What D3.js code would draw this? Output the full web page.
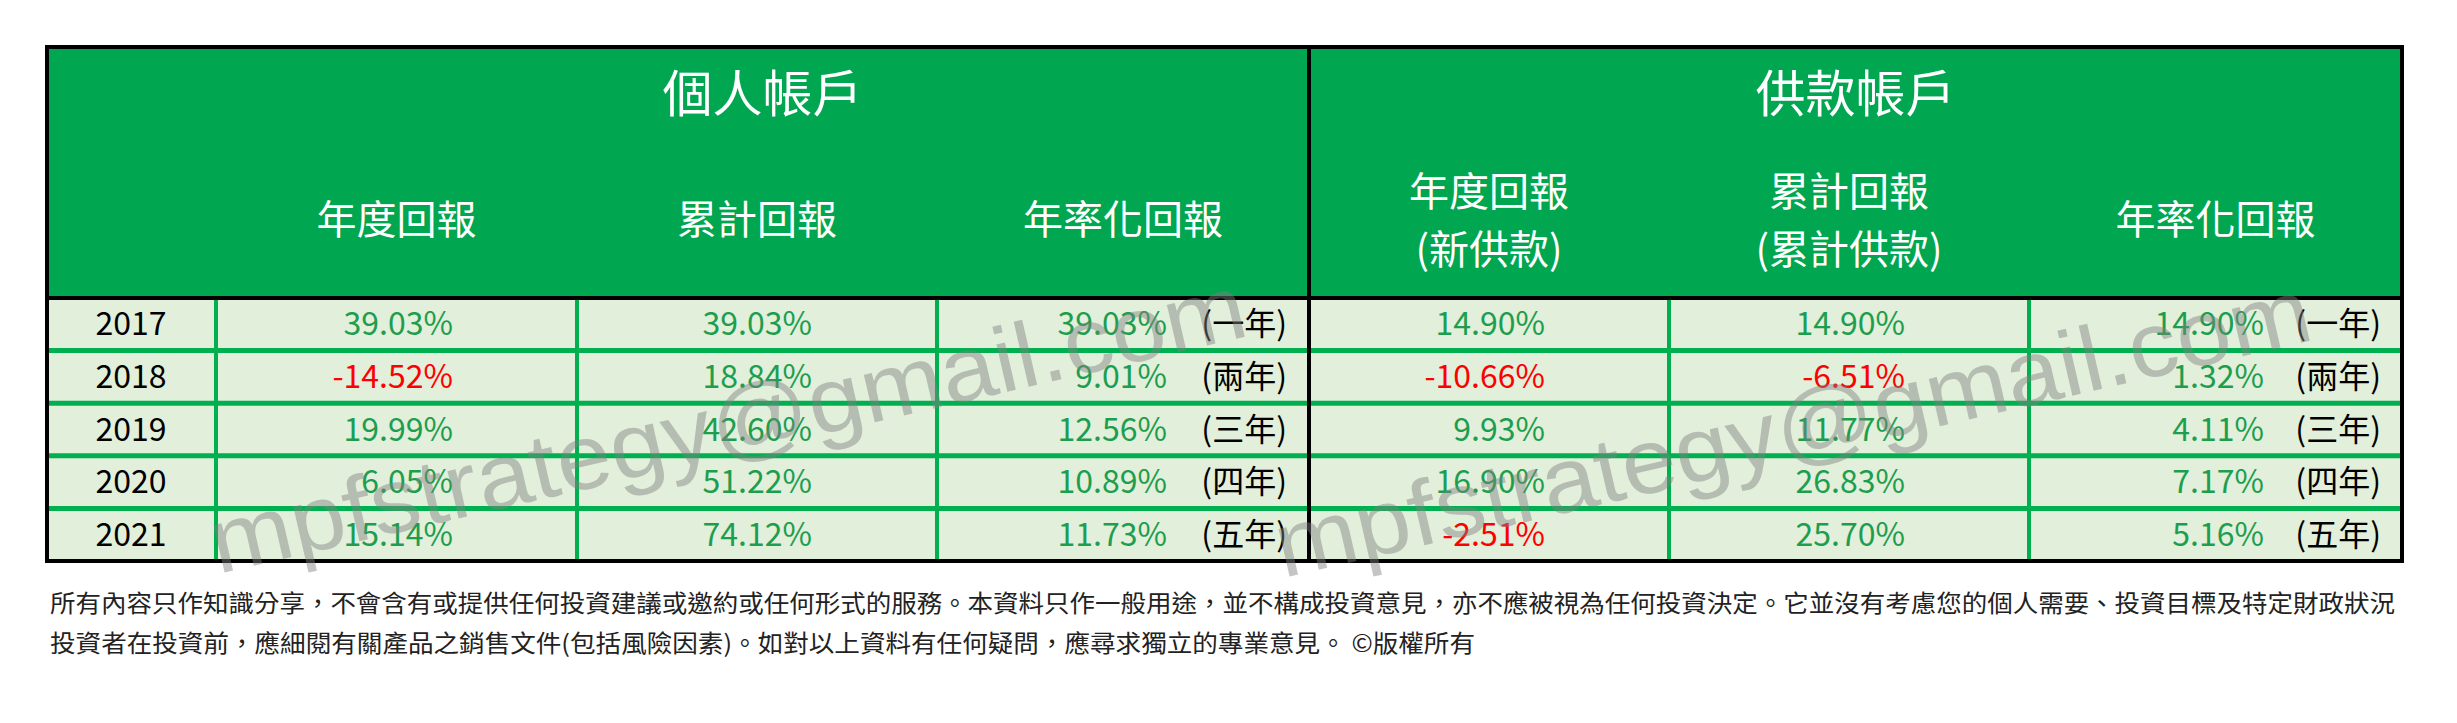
<!DOCTYPE html>
<html><head><meta charset="utf-8">
<script src="https://cdn.jsdelivr.net/npm/d3@7"></script>
<style>body{margin:0;background:#fff}</style></head>
<body><svg id="c" width="2457" height="723"></svg>
<script>
const years = ["2017","2018","2019","2020","2021"];
const groups = ["個人帳戶","供款帳戶"];
const colHeaders = [["年度回報"],["累計回報"],["年率化回報"],["年度回報","(新供款)"],["累計回報","(累計供款)"],["年率化回報"]];
const personalAnnual = [39.03,-14.52,19.99,6.05,15.14];
const personalCum = [39.03,18.84,42.60,51.22,74.12];
const personalAnnualized = [39.03,9.01,12.56,10.89,11.73];
const contribAnnual = [14.90,-10.66,9.93,16.90,-2.51];
const contribCum = [14.90,-6.51,11.77,26.83,25.70];
const contribAnnualized = [14.90,1.32,4.11,7.17,5.16];
const periodLabels = ["(一年)","(兩年)","(三年)","(四年)","(五年)"];
const footer = ["所有內容只作知識分享，不會含有或提供任何投資建議或邀約或任何形式的服務。本資料只作一般用途，並不構成投資意見，亦不應被視為任何投資決定。它並沒有考慮您的個人需要、投資目標及特定財政狀況",
"投資者在投資前，應細閱有關產品之銷售文件(包括風險因素)。如對以上資料有任何疑問，應尋求獨立的專業意見。 ©版權所有"];
const watermark = "mpfstrategy@gmail.com";

(function(){
const svg = d3.select("#c");
const F = "'Noto Sans CJK TC','Noto Sans',sans-serif";
const GREEN="#00a650", LIGHT="#e2efda", LINE="#00b050", TXT="#1d9e4f", RED="#ff0000";
const colEdges = [47,216,577,937,1309,1669,2029,2402];
const tTop=47, headBot=298;
const y = d3.scaleBand().domain(years).range([headBot,561]);

svg.append("rect").attr("x",47).attr("y",tTop).attr("width",2355).attr("height",headBot-tTop).attr("fill",GREEN);
svg.append("rect").attr("x",47).attr("y",headBot).attr("width",2355).attr("height",561-headBot).attr("fill",LIGHT);
[[216,1309],[1309,2402]].forEach((r,i)=>{
  svg.append("text").attr("x",(r[0]+r[1])/2).attr("y",112).attr("text-anchor","middle")
    .attr("font-family",F).attr("font-size",50).attr("fill","#fff").text(groups[i]);
});
colHeaders.forEach((h,i)=>{
  const cx=(colEdges[i+1]+colEdges[i+2])/2;
  h.forEach((t,j)=>{
    const yy = h.length==1?234:206+j*58;
    svg.append("text").attr("x",cx).attr("y",yy).attr("text-anchor","middle")
      .attr("font-family",F).attr("font-size",40).attr("fill","#fff").text(t);
  });
});
years.slice(1).forEach(yr=>{
  svg.append("line").attr("x1",47).attr("x2",2402).attr("y1",y(yr)).attr("y2",y(yr)).attr("stroke",LINE).attr("stroke-width",5);
});
[216,577,937,1669,2029].forEach(x=>svg.append("line").attr("x1",x).attr("x2",x).attr("y1",headBot).attr("y2",561).attr("stroke",LINE).attr("stroke-width",4));
svg.append("line").attr("x1",1309).attr("x2",1309).attr("y1",tTop).attr("y2",561).attr("stroke","#000").attr("stroke-width",4);
svg.append("line").attr("x1",47).attr("x2",2402).attr("y1",headBot).attr("y2",headBot).attr("stroke","#000").attr("stroke-width",4);
svg.append("rect").attr("x",47).attr("y",tTop).attr("width",2355).attr("height",561-tTop).attr("fill","none").attr("stroke","#000").attr("stroke-width",4);

const fs=32;
const cy=yr=>y(yr)+y.bandwidth()/2+11;
years.forEach(yr=>{
  svg.append("text").attr("x",131).attr("y",cy(yr)).attr("text-anchor","middle").attr("font-family",F).attr("font-size",fs).attr("fill","#000").text(yr);
});
const cols=[[personalAnnual,453],[personalCum,812],[personalAnnualized,1167],[contribAnnual,1545],[contribCum,1905],[contribAnnualized,2264]];
cols.forEach(([arr,xr])=>{
  arr.forEach((v,i)=>{
    svg.append("text").attr("x",xr).attr("y",cy(years[i])).attr("text-anchor","end").attr("font-family",F).attr("font-size",fs)
      .attr("fill",v<0?RED:TXT).text(v.toFixed(2)+"%");
  });
});
[1287,2381].forEach(xr=>periodLabels.forEach((p,i)=>{
  svg.append("text").attr("x",xr).attr("y",cy(years[i])).attr("text-anchor","end").attr("font-family",F).attr("font-size",fs).attr("fill","#000").text(p);
}));
[[729,431],[1794,435]].forEach(([x,yy])=>{
  svg.append("text").attr("transform",`translate(${x},${yy}) rotate(-13)`).attr("text-anchor","middle").attr("dominant-baseline","middle")
    .attr("font-family","'Liberation Sans',sans-serif").attr("font-size",92).attr("fill","#808080").attr("opacity",0.45)
    .attr("textLength",1060).attr("lengthAdjust","spacingAndGlyphs").text(watermark);
});
svg.append("text").attr("x",50).attr("y",612).attr("font-family",F).attr("font-size",24).attr("fill","#222")
  .attr("textLength",2345).attr("lengthAdjust","spacingAndGlyphs").text(footer[0]);
svg.append("text").attr("x",50).attr("y",652).attr("font-family",F).attr("font-size",24).attr("fill","#222")
  .attr("textLength",1425).attr("lengthAdjust","spacingAndGlyphs").text(footer[1]);
})();
</script></body></html>
